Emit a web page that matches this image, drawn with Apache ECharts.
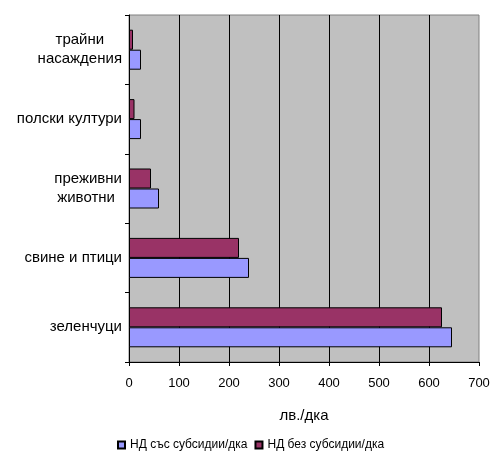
<!DOCTYPE html>
<html><head><meta charset="utf-8">
<script src="https://cdn.jsdelivr.net/npm/echarts@6/dist/echarts.min.js"></script>
<style>html,body{margin:0;padding:0;background:#fff}#c{width:493px;height:451px}</style>
</head><body><div id="c"></div>
<script>
const categories = ['зеленчуци', 'свине и птици', 'преживни\nживотни ', 'полски култури', 'трайни\nнасаждения'];
const withSubsidies = [646, 240, 60, 24, 24];
const withoutSubsidies = [626, 220, 44, 11, 8];
const seriesNames = ['НД със субсидии/дка', 'НД без субсидии/дка'];
const xTicks = { min: 0, max: 700, interval: 100 };
const axisTitle = 'лв./дка';

const font = 'Liberation Sans, Arial, sans-serif';
const chart = echarts.init(document.getElementById('c'));
chart.setOption({
  animation: false,
  textStyle: { fontFamily: font },
  grid: {
    left: 129, right: 14, top: 15, bottom: 89,
    show: true, backgroundColor: '#C0C0C0', borderColor: '#808080', borderWidth: 1
  },
  legend: {
    left: 112, top: 434,
    itemWidth: 7, itemHeight: 7, itemGap: 7,
    icon: 'rect',
    textStyle: { fontSize: 12, color: '#000', fontFamily: font },
    data: seriesNames
  },
  xAxis: {
    type: 'value', min: xTicks.min, max: xTicks.max, interval: xTicks.interval,
    name: axisTitle, nameLocation: 'middle', nameGap: 46,
    nameTextStyle: { fontSize: 15, color: '#000', fontFamily: font },
    axisLine: { show: true, lineStyle: { color: '#000', width: 1 } },
    axisTick: { show: true, inside: false, length: 4, lineStyle: { color: '#000' } },
    axisLabel: { fontSize: 13, color: '#000', margin: 15, fontFamily: font },
    splitLine: { show: true, showMinLine: false, showMaxLine: false, lineStyle: { color: '#000', width: 1 } }
  },
  yAxis: {
    type: 'category', data: categories,
    axisLine: { show: true, lineStyle: { color: '#000', width: 1 } },
    axisTick: { show: true, inside: false, length: 4, lineStyle: { color: '#000' } },
    axisLabel: {
      fontSize: 15, color: '#000', margin: 7, fontFamily: font, lineHeight: 19,
      formatter: function (v) {
        return v.split('\n').map(function (s) { return '{c|' + s + '}'; }).join('\n');
      },
      rich: { c: { align: 'center', fontSize: 15, color: '#000', fontFamily: font, lineHeight: 19 } }
    },
    splitLine: { show: false }
  },
  series: [
    {
      name: seriesNames[1], type: 'bar', data: withoutSubsidies,
      barWidth: 20, barGap: '0%',
      itemStyle: { color: '#993366', borderColor: '#000', borderWidth: 1 }
    },
    {
      name: seriesNames[0], type: 'bar', data: withSubsidies,
      barWidth: 20, barGap: '0%',
      itemStyle: { color: '#9999FF', borderColor: '#000', borderWidth: 1 }
    }
  ]
});
</script></body></html>
